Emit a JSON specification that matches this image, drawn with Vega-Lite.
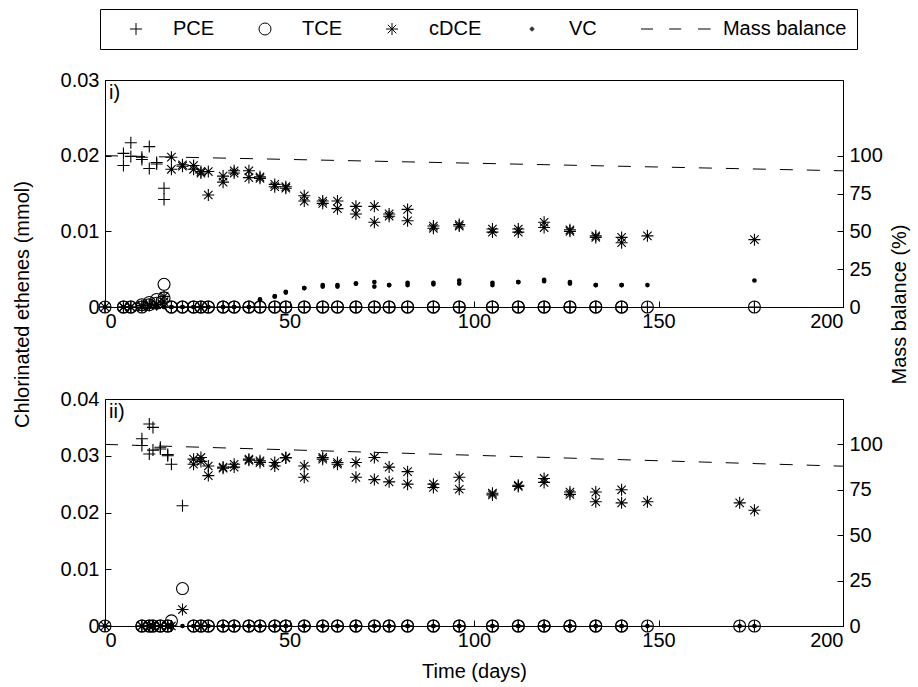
{
  "$schema": "https://vega.github.io/schema/vega-lite/v6.json",
  "background": "white",
  "padding": {"left": 11, "top": 8, "right": 8, "bottom": 2},
  "config": {
    "font": "Liberation Sans",
    "view": {"stroke": "black", "strokeWidth": 1},
    "axis": {
      "labelFont": "Liberation Sans", "labelFontSize": 20, "labelColor": "black",
      "titleFont": "Liberation Sans", "titleFontSize": 20, "titleFontWeight": "normal", "titleColor": "black",
      "domainColor": "black", "tickColor": "black", "grid": false, "tickSize": -6, "labelPadding": 12
    },
    "legend": {
      "orient": "none", "legendX": -5, "legendY": -71, "direction": "horizontal", "columns": 5,
      "labelFont": "Liberation Sans", "labelFontSize": 20, "labelColor": "black", "labelLimit": 400,
      "symbolSize": 144, "symbolStrokeWidth": 1, "symbolStrokeColor": "black", "symbolFillColor": "transparent",
      "symbolOffset": 16, "labelOffset": 27, "columnPadding": 24, "padding": 10,
      "strokeColor": "black", "fillColor": "white"
    }
  },
  "datasets": {
    "pts": [
      {"p": "i", "t": 0, "PCE": 0, "TCE": 0, "cDCE": 0, "VC": 0},
      {"p": "i", "t": 5, "PCE": 0.0187, "TCE": 0, "cDCE": 0, "VC": 0},
      {"p": "i", "t": 5, "PCE": 0.0203, "TCE": 0, "cDCE": 0, "VC": 0},
      {"p": "i", "t": 7, "PCE": 0.0217, "TCE": 0, "cDCE": 0, "VC": 0},
      {"p": "i", "t": 7, "PCE": 0.0199, "TCE": 0, "cDCE": 0, "VC": 0},
      {"p": "i", "t": 10, "PCE": 0.0198, "TCE": 0.0003, "cDCE": 0.0002, "VC": 0},
      {"p": "i", "t": 10, "PCE": 0.0195, "TCE": 0, "cDCE": 0, "VC": 0},
      {"p": "i", "t": 12, "PCE": 0.0212, "TCE": 0.0006, "cDCE": 0.0003, "VC": 0},
      {"p": "i", "t": 12, "PCE": 0.0183, "TCE": 0.0003, "cDCE": 0.0002, "VC": 0},
      {"p": "i", "t": 14, "PCE": 0.0191, "TCE": 0.0010, "cDCE": 0.0004, "VC": 0},
      {"p": "i", "t": 14, "PCE": 0.0189, "TCE": 0.0005, "cDCE": 0.0003, "VC": 0},
      {"p": "i", "t": 16, "PCE": 0.0157, "TCE": 0.0030, "cDCE": 0.0014, "VC": 0},
      {"p": "i", "t": 16, "PCE": 0.0142, "TCE": 0.0012, "cDCE": 0.0007, "VC": 0},
      {"p": "i", "t": 18, "PCE": 0, "TCE": 0, "cDCE": 0.0198, "VC": 0},
      {"p": "i", "t": 18, "PCE": 0, "TCE": 0, "cDCE": 0.0182, "VC": 0},
      {"p": "i", "t": 21, "PCE": 0, "TCE": 0, "cDCE": 0.0188, "VC": 0},
      {"p": "i", "t": 21, "PCE": 0, "TCE": 0, "cDCE": 0.0186, "VC": 0},
      {"p": "i", "t": 24, "PCE": 0, "TCE": 0, "cDCE": 0.0187, "VC": 0},
      {"p": "i", "t": 24, "PCE": 0, "TCE": 0, "cDCE": 0.0182, "VC": 0},
      {"p": "i", "t": 26, "PCE": 0, "TCE": 0, "cDCE": 0.0179, "VC": 0},
      {"p": "i", "t": 26, "PCE": 0, "TCE": 0, "cDCE": 0.0177, "VC": 0},
      {"p": "i", "t": 28, "PCE": 0, "TCE": 0, "cDCE": 0.0179, "VC": 0},
      {"p": "i", "t": 28, "PCE": 0, "TCE": 0, "cDCE": 0.0148, "VC": 0},
      {"p": "i", "t": 32, "PCE": 0, "TCE": 0, "cDCE": 0.0173, "VC": 0},
      {"p": "i", "t": 32, "PCE": 0, "TCE": 0, "cDCE": 0.0165, "VC": 0},
      {"p": "i", "t": 35, "PCE": 0, "TCE": 0, "cDCE": 0.0180, "VC": 0},
      {"p": "i", "t": 35, "PCE": 0, "TCE": 0, "cDCE": 0.0177, "VC": 0},
      {"p": "i", "t": 39, "PCE": 0, "TCE": 0, "cDCE": 0.0180, "VC": 0},
      {"p": "i", "t": 39, "PCE": 0, "TCE": 0, "cDCE": 0.0171, "VC": 0},
      {"p": "i", "t": 42, "PCE": 0, "TCE": 0, "cDCE": 0.0172, "VC": 0.0010},
      {"p": "i", "t": 42, "PCE": 0, "TCE": 0, "cDCE": 0.0170, "VC": 0.0009},
      {"p": "i", "t": 46, "PCE": 0, "TCE": 0, "cDCE": 0.0162, "VC": 0.0014},
      {"p": "i", "t": 46, "PCE": 0, "TCE": 0, "cDCE": 0.0159, "VC": 0.0014},
      {"p": "i", "t": 49, "PCE": 0, "TCE": 0, "cDCE": 0.0159, "VC": 0.0020},
      {"p": "i", "t": 49, "PCE": 0, "TCE": 0, "cDCE": 0.0157, "VC": 0.0019},
      {"p": "i", "t": 54, "PCE": 0, "TCE": 0, "cDCE": 0.0147, "VC": 0.0025},
      {"p": "i", "t": 54, "PCE": 0, "TCE": 0, "cDCE": 0.0140, "VC": 0.0025},
      {"p": "i", "t": 59, "PCE": 0, "TCE": 0, "cDCE": 0.0140, "VC": 0.0029},
      {"p": "i", "t": 59, "PCE": 0, "TCE": 0, "cDCE": 0.0137, "VC": 0.0027},
      {"p": "i", "t": 63, "PCE": 0, "TCE": 0, "cDCE": 0.0140, "VC": 0.0029},
      {"p": "i", "t": 63, "PCE": 0, "TCE": 0, "cDCE": 0.0130, "VC": 0.0027},
      {"p": "i", "t": 68, "PCE": 0, "TCE": 0, "cDCE": 0.0133, "VC": 0.0031},
      {"p": "i", "t": 68, "PCE": 0, "TCE": 0, "cDCE": 0.0123, "VC": 0.0031},
      {"p": "i", "t": 73, "PCE": 0, "TCE": 0, "cDCE": 0.0133, "VC": 0.0033},
      {"p": "i", "t": 73, "PCE": 0, "TCE": 0, "cDCE": 0.0112, "VC": 0.0027},
      {"p": "i", "t": 77, "PCE": 0, "TCE": 0, "cDCE": 0.0123, "VC": 0.0029},
      {"p": "i", "t": 77, "PCE": 0, "TCE": 0, "cDCE": 0.0120, "VC": 0.0029},
      {"p": "i", "t": 82, "PCE": 0, "TCE": 0, "cDCE": 0.0129, "VC": 0.0032},
      {"p": "i", "t": 82, "PCE": 0, "TCE": 0, "cDCE": 0.0114, "VC": 0.0029},
      {"p": "i", "t": 89, "PCE": 0, "TCE": 0, "cDCE": 0.0107, "VC": 0.0032},
      {"p": "i", "t": 89, "PCE": 0, "TCE": 0, "cDCE": 0.0104, "VC": 0.0030},
      {"p": "i", "t": 96, "PCE": 0, "TCE": 0, "cDCE": 0.0109, "VC": 0.0035},
      {"p": "i", "t": 96, "PCE": 0, "TCE": 0, "cDCE": 0.0107, "VC": 0.0031},
      {"p": "i", "t": 105, "PCE": 0, "TCE": 0, "cDCE": 0.0103, "VC": 0.0032},
      {"p": "i", "t": 105, "PCE": 0, "TCE": 0, "cDCE": 0.0099, "VC": 0.0029},
      {"p": "i", "t": 112, "PCE": 0, "TCE": 0, "cDCE": 0.0103, "VC": 0.0033},
      {"p": "i", "t": 112, "PCE": 0, "TCE": 0, "cDCE": 0.0099, "VC": 0.0033},
      {"p": "i", "t": 119, "PCE": 0, "TCE": 0, "cDCE": 0.0112, "VC": 0.0036},
      {"p": "i", "t": 119, "PCE": 0, "TCE": 0, "cDCE": 0.0105, "VC": 0.0034},
      {"p": "i", "t": 126, "PCE": 0, "TCE": 0, "cDCE": 0.0102, "VC": 0.0033},
      {"p": "i", "t": 126, "PCE": 0, "TCE": 0, "cDCE": 0.0100, "VC": 0.0031},
      {"p": "i", "t": 133, "PCE": 0, "TCE": 0, "cDCE": 0.0094, "VC": 0.0029},
      {"p": "i", "t": 133, "PCE": 0, "TCE": 0, "cDCE": 0.0092, "VC": 0.0029},
      {"p": "i", "t": 140, "PCE": 0, "TCE": 0, "cDCE": 0.0092, "VC": 0.0029},
      {"p": "i", "t": 140, "PCE": 0, "TCE": 0, "cDCE": 0.0085, "VC": 0.0029},
      {"p": "i", "t": 147, "PCE": 0, "TCE": 0, "cDCE": 0.0094, "VC": 0.0029},
      {"p": "i", "t": 176, "PCE": 0, "TCE": 0, "cDCE": 0.0089, "VC": 0.0035},
      {"p": "ii", "t": 0, "PCE": 0, "TCE": 0, "cDCE": 0, "VC": 0},
      {"p": "ii", "t": 10, "PCE": 0.0330, "TCE": 0, "cDCE": 0, "VC": 0},
      {"p": "ii", "t": 10, "PCE": 0.0318, "TCE": 0, "cDCE": 0, "VC": 0},
      {"p": "ii", "t": 12, "PCE": 0.0356, "TCE": 0, "cDCE": 0, "VC": 0},
      {"p": "ii", "t": 12, "PCE": 0.0303, "TCE": 0, "cDCE": 0, "VC": 0},
      {"p": "ii", "t": 13, "PCE": 0.0350, "TCE": 0, "cDCE": 0, "VC": 0},
      {"p": "ii", "t": 13, "PCE": 0.0310, "TCE": 0, "cDCE": 0, "VC": 0},
      {"p": "ii", "t": 15, "PCE": 0.0315, "TCE": 0, "cDCE": 0, "VC": 0},
      {"p": "ii", "t": 15, "PCE": 0.0312, "TCE": 0, "cDCE": 0, "VC": 0},
      {"p": "ii", "t": 17, "PCE": 0.0302, "TCE": 0, "cDCE": 0, "VC": 0},
      {"p": "ii", "t": 17, "PCE": 0.0300, "TCE": 0, "cDCE": 0, "VC": 0},
      {"p": "ii", "t": 18, "PCE": 0.0285, "TCE": 0.0009, "cDCE": 0, "VC": 0},
      {"p": "ii", "t": 21, "PCE": 0.0212, "TCE": 0.0066, "cDCE": 0.0029, "VC": 0},
      {"p": "ii", "t": 24, "PCE": 0, "TCE": 0, "cDCE": 0.0294, "VC": 0},
      {"p": "ii", "t": 24, "PCE": 0, "TCE": 0, "cDCE": 0.0285, "VC": 0},
      {"p": "ii", "t": 26, "PCE": 0, "TCE": 0, "cDCE": 0.0297, "VC": 0},
      {"p": "ii", "t": 26, "PCE": 0, "TCE": 0, "cDCE": 0.0290, "VC": 0},
      {"p": "ii", "t": 28, "PCE": 0, "TCE": 0, "cDCE": 0.0282, "VC": 0},
      {"p": "ii", "t": 28, "PCE": 0, "TCE": 0, "cDCE": 0.0265, "VC": 0},
      {"p": "ii", "t": 32, "PCE": 0, "TCE": 0, "cDCE": 0.0280, "VC": 0},
      {"p": "ii", "t": 32, "PCE": 0, "TCE": 0, "cDCE": 0.0278, "VC": 0},
      {"p": "ii", "t": 35, "PCE": 0, "TCE": 0, "cDCE": 0.0285, "VC": 0},
      {"p": "ii", "t": 35, "PCE": 0, "TCE": 0, "cDCE": 0.0280, "VC": 0},
      {"p": "ii", "t": 39, "PCE": 0, "TCE": 0, "cDCE": 0.0294, "VC": 0},
      {"p": "ii", "t": 39, "PCE": 0, "TCE": 0, "cDCE": 0.0292, "VC": 0},
      {"p": "ii", "t": 42, "PCE": 0, "TCE": 0, "cDCE": 0.0291, "VC": 0},
      {"p": "ii", "t": 42, "PCE": 0, "TCE": 0, "cDCE": 0.0288, "VC": 0},
      {"p": "ii", "t": 46, "PCE": 0, "TCE": 0, "cDCE": 0.0288, "VC": 0},
      {"p": "ii", "t": 46, "PCE": 0, "TCE": 0, "cDCE": 0.0282, "VC": 0},
      {"p": "ii", "t": 49, "PCE": 0, "TCE": 0, "cDCE": 0.0297, "VC": 0},
      {"p": "ii", "t": 49, "PCE": 0, "TCE": 0, "cDCE": 0.0296, "VC": 0},
      {"p": "ii", "t": 54, "PCE": 0, "TCE": 0, "cDCE": 0.0282, "VC": 0},
      {"p": "ii", "t": 54, "PCE": 0, "TCE": 0, "cDCE": 0.0262, "VC": 0},
      {"p": "ii", "t": 59, "PCE": 0, "TCE": 0, "cDCE": 0.0297, "VC": 0},
      {"p": "ii", "t": 59, "PCE": 0, "TCE": 0, "cDCE": 0.0294, "VC": 0},
      {"p": "ii", "t": 63, "PCE": 0, "TCE": 0, "cDCE": 0.0288, "VC": 0},
      {"p": "ii", "t": 63, "PCE": 0, "TCE": 0, "cDCE": 0.0285, "VC": 0},
      {"p": "ii", "t": 68, "PCE": 0, "TCE": 0, "cDCE": 0.0288, "VC": 0},
      {"p": "ii", "t": 68, "PCE": 0, "TCE": 0, "cDCE": 0.0262, "VC": 0},
      {"p": "ii", "t": 73, "PCE": 0, "TCE": 0, "cDCE": 0.0297, "VC": 0},
      {"p": "ii", "t": 73, "PCE": 0, "TCE": 0, "cDCE": 0.0258, "VC": 0},
      {"p": "ii", "t": 77, "PCE": 0, "TCE": 0, "cDCE": 0.0280, "VC": 0},
      {"p": "ii", "t": 77, "PCE": 0, "TCE": 0, "cDCE": 0.0254, "VC": 0},
      {"p": "ii", "t": 82, "PCE": 0, "TCE": 0, "cDCE": 0.0272, "VC": 0},
      {"p": "ii", "t": 82, "PCE": 0, "TCE": 0, "cDCE": 0.0250, "VC": 0},
      {"p": "ii", "t": 89, "PCE": 0, "TCE": 0, "cDCE": 0.0250, "VC": 0},
      {"p": "ii", "t": 89, "PCE": 0, "TCE": 0, "cDCE": 0.0244, "VC": 0},
      {"p": "ii", "t": 96, "PCE": 0, "TCE": 0, "cDCE": 0.0262, "VC": 0},
      {"p": "ii", "t": 96, "PCE": 0, "TCE": 0, "cDCE": 0.0241, "VC": 0},
      {"p": "ii", "t": 105, "PCE": 0, "TCE": 0, "cDCE": 0.0234, "VC": 0},
      {"p": "ii", "t": 105, "PCE": 0, "TCE": 0, "cDCE": 0.0231, "VC": 0},
      {"p": "ii", "t": 112, "PCE": 0, "TCE": 0, "cDCE": 0.0248, "VC": 0},
      {"p": "ii", "t": 112, "PCE": 0, "TCE": 0, "cDCE": 0.0246, "VC": 0},
      {"p": "ii", "t": 119, "PCE": 0, "TCE": 0, "cDCE": 0.0260, "VC": 0},
      {"p": "ii", "t": 119, "PCE": 0, "TCE": 0, "cDCE": 0.0253, "VC": 0},
      {"p": "ii", "t": 126, "PCE": 0, "TCE": 0, "cDCE": 0.0236, "VC": 0},
      {"p": "ii", "t": 126, "PCE": 0, "TCE": 0, "cDCE": 0.0232, "VC": 0},
      {"p": "ii", "t": 133, "PCE": 0, "TCE": 0, "cDCE": 0.0236, "VC": 0},
      {"p": "ii", "t": 133, "PCE": 0, "TCE": 0, "cDCE": 0.0219, "VC": 0},
      {"p": "ii", "t": 140, "PCE": 0, "TCE": 0, "cDCE": 0.0240, "VC": 0},
      {"p": "ii", "t": 140, "PCE": 0, "TCE": 0, "cDCE": 0.0217, "VC": 0},
      {"p": "ii", "t": 147, "PCE": 0, "TCE": 0, "cDCE": 0.0219, "VC": 0},
      {"p": "ii", "t": 172, "PCE": 0, "TCE": 0, "cDCE": 0.0217, "VC": 0},
      {"p": "ii", "t": 176, "PCE": 0, "TCE": 0, "cDCE": 0.0204, "VC": 0}
    ],
    "mb": [
      {"p": "i", "t": 0, "mb": 100},
      {"p": "i", "t": 200, "mb": 90},
      {"p": "ii", "t": 0, "mb": 100},
      {"p": "ii", "t": 200, "mb": 88}
    ]
  },
  "bounds": "flush",
  "spacing": 92,
  "resolve": {"scale": {"shape": "shared"}, "legend": {"shape": "shared"}},
  "vconcat": [
    {
      "width": 738,
      "height": 227,
      "resolve": {"scale": {"y": "independent"}},
      "layer": [
        {
          "layer": [
            {
              "data": {"name": "pts"},
              "transform": [
                {"filter": "datum.p == 'i'"},
                {"fold": ["PCE", "TCE", "cDCE", "VC"], "as": ["species", "c"]}
              ],
              "mark": {"type": "point", "filled": false, "size": 144, "strokeWidth": 1.1, "color": "black", "opacity": 1},
              "encoding": {
                "x": {"field": "t", "type": "quantitative", "scale": {"domain": [0, 200], "nice": false},
                      "axis": {"values": [0, 50, 100, 150, 200], "title": null, "labelPadding": 10}},
                "y": {"field": "c", "type": "quantitative", "scale": {"domain": [0, 0.03], "nice": false},
                      "axis": {"values": [0, 0.01, 0.02, 0.03], "format": "~g", "title": "Chlorinated ethenes (mmol)", "titleY": 224, "titlePadding": 28}},
                "shape": {
                  "field": "species", "type": "nominal",
                  "scale": {
                    "domain": ["PCE", "TCE", "cDCE", "VC", "\u200b\u00a0\u00a0\u00a0\u00a0\u00a0\u00a0\u00a0Mass balance"],
                    "range": [
                      "M-1,0L1,0M0,-1L0,1",
                      "circle",
                      "M-1,0L1,0M0,-1L0,1M-0.7,-0.7L0.7,0.7M-0.7,0.7L0.7,-0.7",
                      "M-0.3,0A0.3,0.3 0 1,0 0.3,0A0.3,0.3 0 1,0 -0.3,0M-0.15,0A0.15,0.15 0 1,0 0.15,0A0.15,0.15 0 1,0 -0.15,0M-0.05,0L0.05,0",
                      "M-1,0L1,0M3.7,0L5.7,0M8.5,0L10.6,0"
                    ]
                  },
                  "legend": {
                    "title": null,
                    "values": ["PCE", "TCE", "cDCE", "VC", "\u200b\u00a0\u00a0\u00a0\u00a0\u00a0\u00a0\u00a0Mass balance"]
                  }
                }
              }
            },
            {
              "data": {"values": [{"lab": "i)"}]},
              "mark": {"type": "text", "align": "left", "baseline": "top", "dx": 4, "dy": 3, "fontSize": 20, "font": "Liberation Sans", "color": "black"},
              "encoding": {"x": {"datum": 0}, "y": {"datum": 0.03}, "text": {"field": "lab"}}
            }
          ]
        },
        {
          "data": {"name": "mb"},
          "transform": [{"filter": "datum.p == 'i'"}],
          "mark": {"type": "line", "strokeDash": [13, 14], "strokeWidth": 1, "color": "black"},
          "encoding": {
            "x": {"field": "t", "type": "quantitative"},
            "y": {"field": "mb", "type": "quantitative", "scale": {"domain": [0, 150], "nice": false},
                  "axis": {"orient": "right", "values": [0, 25, 50, 75, 100], "title": "Mass balance (%)", "titleY": 224, "titleAngle": 270, "titleBaseline": "bottom", "titlePadding": 27}}
          }
        }
      ]
    },
    {
      "width": 738,
      "height": 227,
      "resolve": {"scale": {"y": "independent"}},
      "layer": [
        {
          "layer": [
            {
              "data": {"name": "pts"},
              "transform": [
                {"filter": "datum.p == 'ii'"},
                {"fold": ["PCE", "TCE", "cDCE", "VC"], "as": ["species", "c"]}
              ],
              "mark": {"type": "point", "filled": false, "size": 144, "strokeWidth": 1.1, "color": "black", "opacity": 1},
              "encoding": {
                "x": {"field": "t", "type": "quantitative", "scale": {"domain": [0, 200], "nice": false},
                      "axis": {"values": [0, 50, 100, 150, 200], "title": "Time (days)", "labelPadding": 10, "titlePadding": 11}},
                "y": {"field": "c", "type": "quantitative", "scale": {"domain": [0, 0.04], "nice": false},
                      "axis": {"values": [0, 0.01, 0.02, 0.03, 0.04], "format": "~g", "title": null}},
                "shape": {
                  "field": "species", "type": "nominal",
                  "scale": {
                    "domain": ["PCE", "TCE", "cDCE", "VC", "\u200b\u00a0\u00a0\u00a0\u00a0\u00a0\u00a0\u00a0Mass balance"],
                    "range": [
                      "M-1,0L1,0M0,-1L0,1",
                      "circle",
                      "M-1,0L1,0M0,-1L0,1M-0.7,-0.7L0.7,0.7M-0.7,0.7L0.7,-0.7",
                      "M-0.3,0A0.3,0.3 0 1,0 0.3,0A0.3,0.3 0 1,0 -0.3,0M-0.15,0A0.15,0.15 0 1,0 0.15,0A0.15,0.15 0 1,0 -0.15,0M-0.05,0L0.05,0",
                      "M-1,0L1,0M3.7,0L5.7,0M8.5,0L10.6,0"
                    ]
                  },
                  "legend": {
                    "title": null,
                    "values": ["PCE", "TCE", "cDCE", "VC", "\u200b\u00a0\u00a0\u00a0\u00a0\u00a0\u00a0\u00a0Mass balance"]
                  }
                }
              }
            },
            {
              "data": {"values": [{"lab": "ii)"}]},
              "mark": {"type": "text", "align": "left", "baseline": "top", "dx": 4, "dy": 3, "fontSize": 20, "font": "Liberation Sans", "color": "black"},
              "encoding": {"x": {"datum": 0}, "y": {"datum": 0.04}, "text": {"field": "lab"}}
            }
          ]
        },
        {
          "data": {"name": "mb"},
          "transform": [{"filter": "datum.p == 'ii'"}],
          "mark": {"type": "line", "strokeDash": [13, 14], "strokeWidth": 1, "color": "black"},
          "encoding": {
            "x": {"field": "t", "type": "quantitative"},
            "y": {"field": "mb", "type": "quantitative", "scale": {"domain": [0, 125], "nice": false},
                  "axis": {"orient": "right", "values": [0, 25, 50, 75, 100], "title": null}}
          }
        }
      ]
    }
  ]
}
